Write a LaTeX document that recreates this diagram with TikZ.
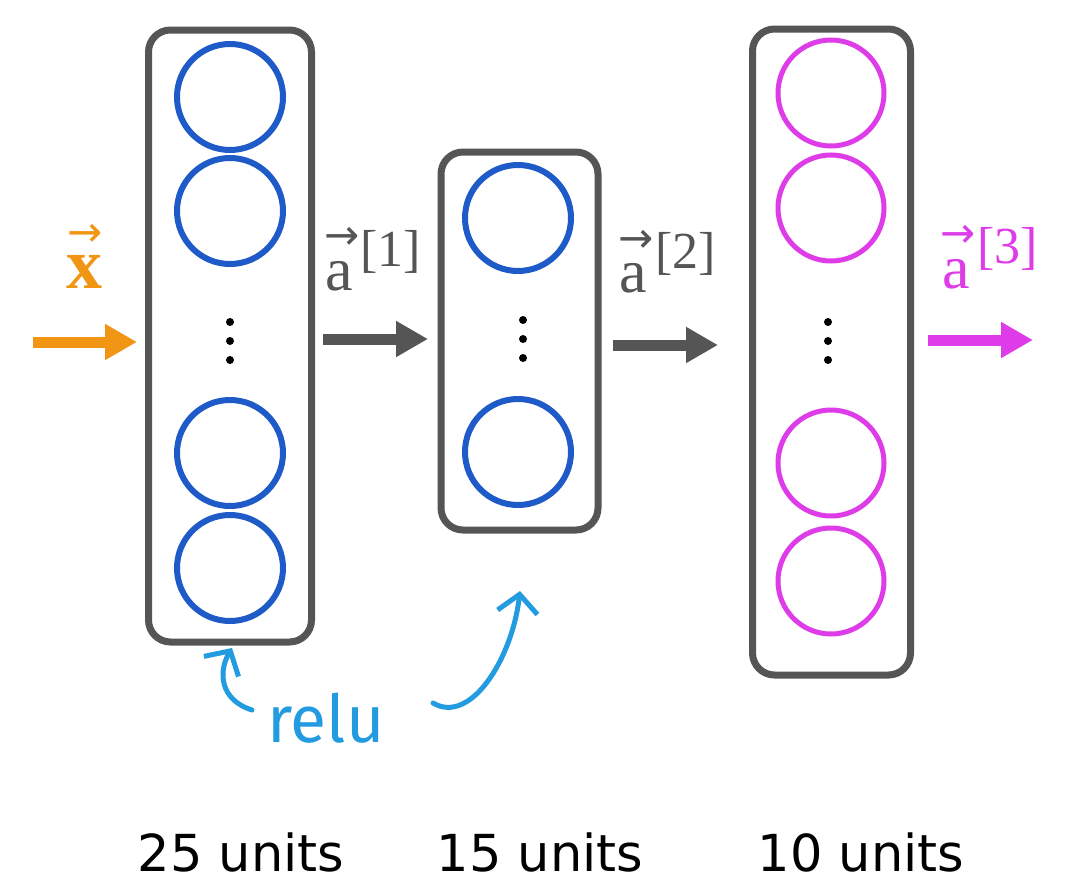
\documentclass[tikz,border=0pt]{standalone}
\usepackage{fontspec}
\usetikzlibrary{arrows.meta}
\newfontfamily\unitsfont{DejaVu Sans}
\newfontfamily\handfont{Fira Sans}
\newfontfamily\labfont{Liberation Serif}
\newfontfamily\arrfont{DejaVu Sans}
\definecolor{boxgray}{RGB}{85,85,85}
\definecolor{unitblue}{RGB}{30,90,200}
\definecolor{unitmag}{RGB}{222,60,232}
\definecolor{inorange}{RGB}{240,150,20}
\definecolor{relublue}{RGB}{35,155,225}
\tikzset{
  layerbox/.style={draw=boxgray, line width=7pt, rounded corners=22pt, inner sep=0pt},
  unitb/.style={circle, draw=unitblue, line width=6pt, minimum size=106pt, inner sep=0pt},
  unitm/.style={circle, draw=unitmag, line width=5pt, minimum size=106pt, inner sep=0pt},
  dotc/.style={circle, fill=black, minimum size=8pt, inner sep=0pt},
  bigarrow/.style={line width=11pt, -{Triangle[length=32pt,width=34pt]}},
  relarrow/.style={draw=relublue, line width=5pt, line cap=round, -{Straight Barb[length=18pt,width=40pt,line width=5pt]}},
  unitslabel/.style={font=\unitsfont\fontsize{51}{56}\selectfont, text=black},
  vecbase/.style={inner sep=0pt, anchor=base west, text height=29pt, text depth=0pt, font=\labfont\fontsize{62}{70}\selectfont},
  vecsup/.style={inner sep=0pt, anchor=base west, text height=33pt, text depth=10pt, font=\labfont\fontsize{52}{58}\selectfont},
  vecarrow/.style={inner sep=0pt, anchor=base, text height=22pt, text depth=0pt, font=\arrfont\fontsize{42}{46}\selectfont},
}
\begin{document}
\begin{tikzpicture}[x=1pt,y=-1pt]
\useasboundingbox (0,0) rectangle (1076,886);
\fill[white] (0,0) rectangle (1076,886);
% layer boxes
\node[layerbox, minimum width=163pt, minimum height=612pt] (L1) at (230,336) {};
\node[layerbox, minimum width=157pt, minimum height=378pt] (L2) at (519.5,341) {};
\node[layerbox, minimum width=158pt, minimum height=646pt] (L3) at (831.5,352) {};
% layer 1 units
\node[unitb] (u11) at (230,97) {};
\node[unitb] (u12) at (230,211) {};
\node[unitb] (u13) at (230,453) {};
\node[unitb] (u14) at (230,568) {};
\node[dotc] (d11) at (230,322) {};
\node[dotc] (d12) at (230,341) {};
\node[dotc] (d13) at (230,360) {};
% layer 2 units
\node[unitb] (u21) at (518,218) {};
\node[unitb] (u22) at (518,452) {};
\node[dotc] (d21) at (523,320) {};
\node[dotc] (d22) at (523,339) {};
\node[dotc] (d23) at (523,358) {};
% layer 3 units
\node[unitm] (u31) at (831,93) {};
\node[unitm] (u32) at (831,208) {};
\node[unitm] (u33) at (831,463) {};
\node[unitm] (u34) at (831,581) {};
\node[dotc] (d31) at (828,322) {};
\node[dotc] (d32) at (828,341) {};
\node[dotc] (d33) at (828,360) {};
% arrows between layers
\coordinate (xin) at (33,342);
\coordinate (xend) at (137,342);
\coordinate (s1) at (323,339);
\coordinate (e1) at (428,339);
\coordinate (s2) at (613,345);
\coordinate (e2) at (718,345);
\coordinate (s3) at (928,340);
\coordinate (aout) at (1033,340);
\draw[bigarrow, draw=inorange, fill=inorange] (xin) -- (xend);
\draw[bigarrow, draw=boxgray, fill=boxgray] (s1) -- (e1);
\draw[bigarrow, draw=boxgray, fill=boxgray] (s2) -- (e2);
\draw[bigarrow, draw=unitmag, fill=unitmag] (s3) -- (aout);
% vector labels
\node[vecbase, text=inorange, text height=34pt, font=\labfont\bfseries\fontsize{72}{80}\selectfont] (xlab) at (66,288) {x};
\node[vecarrow, text=inorange] (xarr) at (85,246) {→};
\node[vecbase, text=boxgray] (a1lab) at (325,290) {a};
\node[vecsup, text=boxgray] (a1sup) at (360,266) {[1]};
\node[vecarrow, text=boxgray] (a1arr) at (342,249) {→};
\node[vecbase, text=boxgray] (a2lab) at (619,292) {a};
\node[vecsup, text=boxgray] (a2sup) at (655,268) {[2]};
\node[vecarrow, text=boxgray] (a2arr) at (636,252) {→};
\node[vecbase, text=unitmag] (a3lab) at (942,288) {a};
\node[vecsup, text=unitmag] (a3sup) at (977,263) {[3]};
\node[vecarrow, text=unitmag] (a3arr) at (958,247) {→};
% relu annotation
\node[font=\handfont\fontsize{66}{70}\selectfont, text=relublue] (relu) at (326,718) {relu};
\coordinate (r1s) at (252,710);
\coordinate (r1e) at (232,648);
\coordinate (r2s) at (433,703);
\coordinate (r2e) at (520,591);
\draw[relarrow] (r1s) .. controls (220,700) and (218,672) .. (r1e);
\draw[relarrow] (r2s) .. controls (470,725) and (512,660) .. (r2e);
% unit counts
\node[unitslabel] (n1) at (241,852) {25 units};
\node[unitslabel] (n2) at (540,852) {15 units};
\node[unitslabel] (n3) at (861,852) {10 units};
\end{tikzpicture}
\end{document}
